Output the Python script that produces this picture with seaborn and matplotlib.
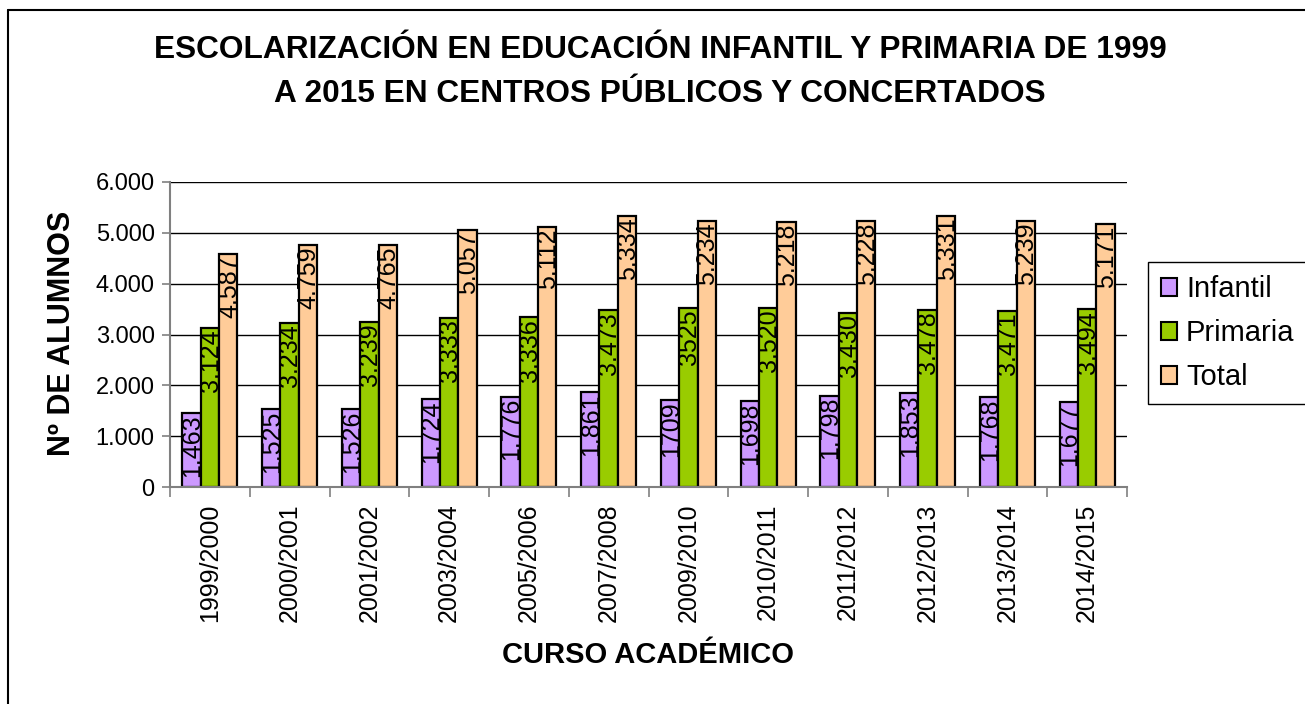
import matplotlib
matplotlib.use("Agg")
import matplotlib.pyplot as plt
from matplotlib.lines import Line2D
from matplotlib.ticker import FuncFormatter, MultipleLocator, FixedLocator
import seaborn as sns
import pandas as pd

cursos = ["1999/2000", "2000/2001", "2001/2002", "2003/2004", "2005/2006", "2007/2008",
          "2009/2010", "2010/2011", "2011/2012", "2012/2013", "2013/2014", "2014/2015"]
infantil = [1463, 1525, 1526, 1724, 1776, 1861, 1709, 1698, 1798, 1853, 1768, 1677]
primaria = [3124, 3234, 3239, 3333, 3336, 3473, 3525, 3520, 3430, 3478, 3471, 3494]
total = [4587, 4759, 4765, 5057, 5112, 5334, 5234, 5218, 5228, 5331, 5239, 5171]
series_names = ["Infantil", "Primaria", "Total"]
colors = ["#CC99FF", "#99CC00", "#FFCC99"]

def fmt(v):
    return f"{v:,.0f}".replace(",", ".")

labels_inf = [fmt(v) for v in infantil]
labels_pri = [fmt(v) for v in primaria]
labels_tot = [fmt(v) for v in total]
labels_inf[6] = "1709"
labels_pri[6] = "3525"
all_labels = [labels_inf, labels_pri, labels_tot]

df = pd.DataFrame({
    "curso": cursos * 3,
    "serie": [s for s in series_names for _ in cursos],
    "valor": infantil + primaria + total,
})

sns.set_style("white")
plt.rcParams["font.family"] = ["Liberation Sans", "DejaVu Sans"]
plt.rcParams["text.color"] = "black"
plt.rcParams["axes.labelcolor"] = "black"
plt.rcParams["xtick.color"] = "black"
plt.rcParams["ytick.color"] = "black"

fig = plt.figure(figsize=(13.05, 7.04), dpi=100)
ax = fig.add_axes([170 / 1305, 1 - 487 / 704, (1127 - 170) / 1305, (487 - 182) / 704])

sns.barplot(data=df, x="curso", y="valor", hue="serie", order=cursos,
            hue_order=series_names, palette=colors, width=0.69,
            edgecolor="black", linewidth=1.6, saturation=1, ax=ax, legend=False, zorder=3)

ax.set_ylim(0, 6000)
ax.set_xlim(-0.5, len(cursos) - 0.5)
ax.yaxis.set_major_locator(MultipleLocator(1000))
ax.yaxis.set_major_formatter(FuncFormatter(lambda v, p: fmt(v)))
ax.grid(axis="y", color="black", linewidth=1.0, zorder=0)
ax.grid(axis="x", visible=False)
ax.set_axisbelow(True)

for s in ["top", "right"]:
    ax.spines[s].set_visible(False)
for s in ["left", "bottom"]:
    ax.spines[s].set_color("#808080")
    ax.spines[s].set_linewidth(1.5)
    ax.spines[s].set_zorder(4)

ax.tick_params(axis="y", which="major", direction="out", length=6, width=1.2, color="#808080",
               labelcolor="black", labelsize=17, pad=5, left=True)
ax.tick_params(axis="x", which="major", length=0, labelsize=18, labelcolor="black", pad=12)
ax.xaxis.set_minor_locator(FixedLocator([i - 0.5 for i in range(len(cursos) + 1)]))
ax.tick_params(axis="x", which="minor", direction="out", length=7, width=1.2, color="#808080", bottom=True)
for lbl in ax.get_xticklabels():
    lbl.set_rotation(90)
ax.set_xlabel("")
ax.set_ylabel("")

for cont, labs in zip(ax.containers, all_labels):
    for patch, lab in zip(cont.patches, labs):
        xc = patch.get_x() + patch.get_width() / 2
        h = patch.get_height()
        ax.annotate(lab, (xc, h), xytext=(0.5, -1), textcoords="offset points",
                    rotation=90, ha="center", va="top", fontsize=18, color="black", zorder=5)

handles = [plt.Rectangle((0, 0), 1, 1, facecolor=c, edgecolor="black", linewidth=1.5) for c in colors]
leg = fig.legend(handles, series_names, loc="upper left",
                 bbox_to_anchor=(1148 / 1305, 1 - 262 / 704), fontsize=21,
                 frameon=True, fancybox=False, edgecolor="black", framealpha=1,
                 handlelength=0.55, handleheight=0.55, handletextpad=0.3,
                 labelspacing=0.55, borderpad=0.45, borderaxespad=0)
leg.get_frame().set_linewidth(1.0)

fig.text(660 / 1305, 1 - 72 / 704,
         "ESCOLARIZACIÓN EN EDUCACIÓN INFANTIL Y PRIMARIA DE 1999\nA 2015 EN CENTROS PÚBLICOS Y CONCERTADOS",
         ha="center", va="center", fontsize=22.8, fontweight="bold", linespacing=1.6)
fig.text(62 / 1305, 1 - 333 / 704, "Nº DE ALUMNOS", rotation=90, ha="center", va="center",
         fontsize=22, fontweight="bold")
fig.text(648 / 1305, 1 - 655 / 704, "CURSO ACADÉMICO", ha="center", va="center",
         fontsize=21, fontweight="bold")

fig.add_artist(Line2D([8 / 1305, 8 / 1305], [0, 1 - 10 / 704], transform=fig.transFigure,
                      color="black", linewidth=1.5))
fig.add_artist(Line2D([8 / 1305, 1], [1 - 10 / 704, 1 - 10 / 704], transform=fig.transFigure,
                      color="black", linewidth=1.5))

fig.savefig("out.png", dpi=100)
